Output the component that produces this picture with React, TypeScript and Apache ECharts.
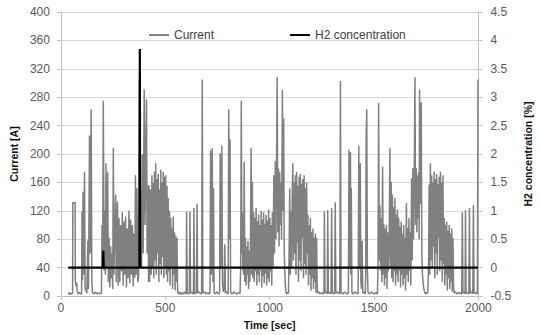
import React, { useEffect, useRef } from "react";
import * as echarts from "echarts";

const FONT = "'Liberation Sans', Arial, sans-serif";

// Current [A], [time s, current A]
const currentPart1: [number, number][] = [
  [35,3],[40,5],[45,2],[50,4],[54,3],[56,6],[57,132],[62,131],[68,132],[69,22],[72,14],[75,19],[78,8],[82,3],[88,5],[95,3],[99,4],
  [101,119],[103,22],[106,147],[109,30],[113,175],[116,12],[120,8],[124,4],[129,78],[132,10],[137,226],[140,60],[145,263],[148,20],
  [151,5],[158,3],[165,6],[172,3],[180,5],[188,3],[194,4],[197,100],[200,40],[203,275],[207,36],[211,120],[213,30],[216,187],[219,40],
  [224,175],[227,20],[231,82],[234,12],[238,70],[241,25],[245,60],[248,10],[251,209],[254,30],[258,90],[262,143],[265,20],[268,100],
  [271,133],[274,15],[278,110],[282,20],[286,100],[290,35],[294,118],[298,15],[302,105],[306,30],[310,112],[314,12],[318,95],[322,25],
  [326,120],[330,18],[334,108],[338,30],[342,100],[346,14],[350,88],[354,26],[357,170],[360,30],[364,152],[368,20],[372,26],[376,305],
  [379,40],[382,150],[386,40],[390,200],[394,60],[399,291],[403,100],[406,180],[410,277],[413,60],[417,156],[420,20]
];
const currentPart2: [number, number][] = [
  [422,156],[425,20],[429,150],[432,30],[436,170],[439,40],[442,160],[445,25],[448,175],[451,50],[454,187],[457,30],[460,165],[463,60],
  [466,172],[469,20],[472,150],[475,45],[478,178],[481,30],[484,160],[487,55],[490,175],[493,25],[496,168],[499,40],[502,170],[505,30],
  [508,155],[511,20],[514,138],[517,35],[520,120],[523,15],[526,110],[529,40],[532,95],[535,10],[538,112],[541,30],[544,90],[547,8],
  [550,85],[553,20],[556,82],[559,6],[563,3],[568,6],[574,2],[580,5],[586,3],[592,6],[597,3],[600,4],[602,119],[605,5],[610,3],[615,4],
  [618,119],[621,4],[627,6],[632,3],[635,4],[637,124],[640,3],[645,5],[649,4],[652,130],[655,4],[662,6],[670,3],[674,4],[677,305],[680,4],
  [688,6],[696,3],[704,5],[710,3],[714,4],[717,205],[720,30],[722,60],[725,208],[728,20],[731,152],[734,5],[740,3],[746,6],[752,4],[758,3],
  [760,5],[763,201],[766,40],[768,80],[771,212],[774,20],[778,6],[782,10],[785,73],[788,4],[795,6],[801,3],[804,263],[807,80],[810,221],[813,5]
];
const currentPart3: [number, number][] = [
  [820,3],[828,6],[836,4],[844,3],[852,5],[858,4],[861,40],[864,275],[867,60],[869,119],[871,36],[873,90],[875,30],[878,189],[881,20],
  [884,82],[887,15],[890,70],[893,30],[896,78],[899,10],[902,64],[905,20],[908,80],[911,208],[914,30],[917,161],[920,25],[923,118],[926,20],
  [929,110],[932,35],[935,124],[938,15],[941,105],[944,30],[947,115],[950,20],[953,100],[956,36],[959,120],[962,12],[965,108],[968,28],
  [971,118],[974,18],[977,102],[980,32],[983,114],[986,15],[989,106],[992,25],[995,122],[998,20],[1001,110],[1004,35],[1007,100],[1010,15],
  [1013,118],[1016,40],[1020,170],[1023,60],[1027,190],[1030,80],[1036,308],[1039,90],[1042,180],[1045,70],[1048,175],[1051,100],[1054,160],
  [1057,80],[1061,290],[1064,120],[1067,250],[1070,60],[1073,30],[1076,10],[1080,3],[1085,5],[1090,4],[1093,60],[1096,152],[1099,30],
  [1102,120],[1105,40],[1108,140],[1111,187],[1114,50],[1117,160],[1120,60],[1123,170],[1126,30],[1129,175],[1132,75],[1135,155],[1138,20],
  [1141,168],[1144,50],[1147,172],[1150,35],[1153,158],[1156,82],[1159,165],[1162,25],[1165,170],[1168,45],[1171,152],[1174,30],[1177,160],
  [1180,60],[1183,115],[1186,15],[1189,100],[1192,30],[1195,110],[1198,8],[1201,90],[1204,25],[1207,95],[1210,10],[1213,82],[1216,20],
  [1219,88],[1222,5],[1225,82],[1228,4]
];
const currentPart4: [number, number][] = [
  [1235,6],[1242,3],[1250,5],[1256,3],[1260,4],[1262,119],[1265,4],[1272,6],[1276,3],[1278,121],[1281,4],[1288,5],[1294,3],[1297,124],
  [1300,5],[1306,3],[1311,4],[1314,132],[1317,4],[1325,6],[1332,3],[1336,4],[1339,303],[1342,5],[1350,3],[1358,6],[1366,4],[1374,3],
  [1377,5],[1380,206],[1383,40],[1385,70],[1387,203],[1389,30],[1391,152],[1394,5],[1400,3],[1408,6],[1416,4],[1422,3],[1424,5],[1427,212],
  [1430,40],[1432,80],[1434,187],[1437,20],[1440,10],[1443,78],[1446,4],[1452,6],[1458,3],[1460,30],[1462,221],[1465,263],[1468,40],[1471,5],
  [1478,3],[1486,6],[1494,4],[1502,3],[1510,5],[1516,3],[1519,40],[1522,272],[1525,50],[1528,128],[1531,36],[1534,110],[1537,20],[1541,182],
  [1544,30],[1547,101],[1550,15],[1553,95],[1556,25],[1559,100],[1562,10],[1565,90],[1568,35],[1572,60],[1576,209],[1579,40],[1582,161],
  [1585,25],[1588,143],[1591,20],[1594,125],[1597,35],[1600,138],[1603,15],[1606,115],[1609,30]
];
const currentPart5: [number, number][] = [
  [1612,122],[1615,20],[1618,110],[1621,36],[1624,98],[1627,12],[1630,105],[1633,30],[1636,88],[1639,15],[1642,100],[1645,25],[1648,82],
  [1651,8],[1655,131],[1658,30],[1661,95],[1664,20],[1667,110],[1670,36],[1673,90],[1676,15],[1680,166],[1683,50],[1686,180],[1689,80],
  [1692,150],[1696,308],[1699,100],[1702,180],[1705,90],[1708,170],[1711,110],[1714,175],[1716,80],[1718,291],[1721,130],[1724,150],
  [1726,273],[1729,60],[1732,30],[1736,15],[1740,8],[1746,3],[1752,5],[1757,4],[1761,40],[1764,157],[1767,30],[1770,187],[1773,50],
  [1776,170],[1779,40],[1782,160],[1785,70],[1788,175],[1791,25],[1794,165],[1797,60],[1800,172],[1803,30],[1806,158],[1809,82],[1812,168],
  [1815,35],[1818,175],[1821,50],[1824,160],[1827,20],[1830,170],[1833,45],[1836,110],[1839,15],[1842,100],[1845,30],[1848,105],[1851,8],
  [1854,92],[1857,25],[1860,100],[1863,10],[1866,88],[1869,20],[1872,95],[1875,6],[1878,82],[1881,15],[1884,4],[1890,6],[1898,3],[1905,5],
  [1912,4],[1918,3],[1920,4],[1923,118],[1926,4],[1932,6],[1936,3],[1938,121],[1941,4],[1948,5],[1954,3],[1957,124],[1960,4],[1967,6],
  [1973,3],[1976,128],[1979,4],[1986,5],[1993,3],[1995,4],[1998,305]
];

// H2 concentration [%]
const h2Times = [35, 201, 203, 205, 376, 378, 380, 1997];
const h2Values = [0, 0, 0.3, 0, 0, 3.85, 0, 0];

const legendNames = ["Current", "H2 concentration"];

export default function App() {
  const ref = useRef<HTMLDivElement>(null);
  useEffect(() => {
    if (!ref.current) return;
    const chart = echarts.init(ref.current, undefined, { renderer: "svg" });
    const currentData = [
      ...currentPart1, ...currentPart2, ...currentPart3, ...currentPart4, ...currentPart5,
    ];
    const h2Data = h2Times.map((t, i) => [t, h2Values[i]]);
    const axisColor = "#bfbfbf";
    chart.setOption({
      animation: false,
      textStyle: { fontFamily: FONT },
      grid: { left: 60, right: 58, top: 12, bottom: 36, containLabel: false },
      legend: {
        data: [
          { name: legendNames[0], icon: "rect", itemStyle: { color: "#808080" } },
          { name: legendNames[1], icon: "rect", itemStyle: { color: "#000000" } },
        ],
        left: 144,
        top: 24,
        itemWidth: 20,
        itemHeight: 2,
        itemGap: 76,
        textStyle: { fontSize: 12, color: "#404040", fontFamily: FONT },
      },
      xAxis: {
        type: "value",
        min: 0,
        max: 2000,
        interval: 500,
        name: "Time [sec]",
        nameLocation: "middle",
        nameGap: 21,
        nameTextStyle: { fontWeight: "bold", fontSize: 10.5, color: "#111", fontFamily: FONT },
        axisLine: { show: true, onZero: false, lineStyle: { color: axisColor } },
        axisTick: { show: true, length: 4, lineStyle: { color: axisColor } },
        axisLabel: {
          fontSize: 12,
          color: "#595959",
          margin: 6,
          fontFamily: FONT,
          formatter: (v: number) => String(v),
        },
        splitLine: { show: false },
      },
      yAxis: [
        {
          type: "value",
          position: "left",
          min: 0,
          max: 400,
          interval: 40,
          name: "Current [A]",
          nameLocation: "middle",
          nameRotate: 90,
          nameGap: 37,
          nameTextStyle: { fontWeight: "bold", fontSize: 10.5, color: "#111", fontFamily: FONT },
          axisLine: { show: true, lineStyle: { color: axisColor } },
          axisTick: { show: true, length: 4, lineStyle: { color: axisColor } },
          axisLabel: { fontSize: 12, color: "#595959", margin: 11, fontFamily: FONT },
          splitLine: { show: true, lineStyle: { color: "#d9d9d9", width: 1 } },
        },
        {
          type: "value",
          position: "right",
          min: -0.5,
          max: 4.5,
          interval: 0.5,
          name: "H2 concentration [%]",
          nameLocation: "middle",
          nameRotate: 90,
          nameGap: 41,
          nameTextStyle: { fontWeight: "bold", fontSize: 10.5, color: "#111", fontFamily: FONT },
          axisLine: { show: true, lineStyle: { color: axisColor } },
          axisTick: { show: true, length: 4, lineStyle: { color: axisColor } },
          axisLabel: { fontSize: 12, color: "#595959", margin: 12, fontFamily: FONT },
          splitLine: { show: false },
        },
      ],
      series: [
        {
          name: "Current",
          type: "line",
          yAxisIndex: 0,
          data: currentData,
          symbol: "none",
          showSymbol: false,
          lineStyle: { color: "#808080", width: 1.5 },
          itemStyle: { color: "#808080" },
        },
        {
          name: "H2 concentration",
          type: "line",
          yAxisIndex: 1,
          data: h2Data,
          symbol: "none",
          showSymbol: false,
          lineStyle: { color: "#000000", width: 2.2 },
          itemStyle: { color: "#000000" },
        },
      ],
    });
    return () => chart.dispose();
  }, []);
  return (
    <div
      ref={ref}
      style={{ position: "fixed", left: 0, top: 0, width: 541, height: 335, background: "#fff" }}
    />
  );
}
